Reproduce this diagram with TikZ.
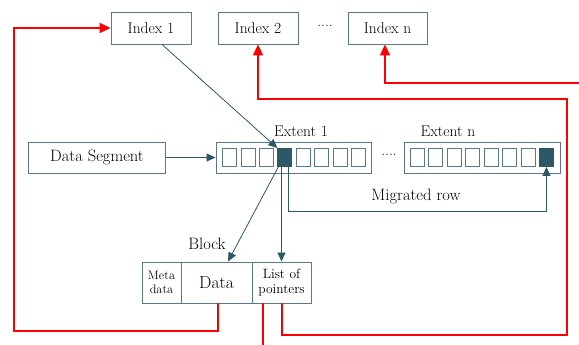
\documentclass[tikz,border=0pt]{standalone}
\usetikzlibrary{arrows.meta,calc}
\definecolor{slate}{RGB}{44,88,104}
\definecolor{edge}{RGB}{88,122,136}
\begin{document}
\begin{tikzpicture}[x=1pt,y=-1pt,
  box/.style={draw=edge,line width=0.9pt,fill=white,inner sep=0pt,minimum height=32pt,font=\fontsize{15.5}{17}\selectfont},
  cell/.style={draw=edge,line width=0.9pt,fill=white,minimum width=14pt,minimum height=18pt,inner sep=0pt},
  full/.style={cell,fill=slate,draw=slate},
  lbl/.style={inner sep=0pt,font=\fontsize{15.5}{17}\selectfont},
  part/.style={draw=edge,line width=0.9pt,fill=white,minimum height=41pt,inner sep=0pt,align=center},
  link/.style={draw=slate,line width=0.8pt,-{Triangle[length=9pt,width=8pt]}},
  ptr/.style={draw=red,line width=1.8pt,-{Triangle[length=11pt,width=10pt]}},
  wire/.style={draw=red,line width=1.8pt},
]
\useasboundingbox (0,0) rectangle (579,345);

% index row
\node[box,minimum width=80pt] (idx1) at (151,28) {Index 1};
\node[box,minimum width=80pt] (idx2) at (258,28) {Index 2};
\node[lbl] (idots) at (325,26) {....};
\node[box,minimum width=79pt] (idxn) at (387.5,28) {Index n};

% segment and extents
\node[box,minimum width=137pt,minimum height=31pt,font=\fontsize{16.5}{18}\selectfont] (seg) at (97,157.5) {Data Segment};
\node[box,minimum width=155pt,minimum height=31pt] (ext1) at (293.5,157.5) {};
\node[box,minimum width=156pt,minimum height=31pt] (extn) at (482,157.5) {};
\node[lbl] (ext1lbl) at (301,131) {Extent 1};
\node[lbl] (extnlbl) at (448,131) {Extent n};
\node[lbl] (edots) at (389,155) {....};

\foreach \i in {1,...,8} {
  \ifnum\i=4
    \node[full] (a\i) at ({229.5+18.45*(\i-1)},157.5) {};
  \else
    \node[cell] (a\i) at ({229.5+18.45*(\i-1)},157.5) {};
  \fi
  \ifnum\i=8
    \node[full] (b\i) at ({417.5+18.43*(\i-1)},157.5) {};
  \else
    \node[cell] (b\i) at ({417.5+18.43*(\i-1)},157.5) {};
  \fi
}

% block
\node[part,minimum width=39pt,font=\fontsize{12.3}{14}\selectfont] (meta) at (161.5,282.5) {Meta\\data};
\node[part,minimum width=71pt,font=\fontsize{17.5}{19}\selectfont] (data) at (216.5,282.5) {Data};
\node[part,minimum width=59pt,font=\fontsize{13.5}{15.5}\selectfont] (list) at (281.5,282.5) {List of\\pointers};
\node[lbl,font=\fontsize{16.5}{18}\selectfont] (blocklbl) at (207,244) {Block};
\node[lbl,font=\fontsize{16.5}{18}\selectfont] (miglbl) at (416,196) {Migrated row};

% dark connectors
\draw[link] ($(idx1.south)+(11,0)$) -- (a4.north west);
\draw[link] (seg.east) -- (ext1.west);
\draw[link] ($(a4.south west)+(2,-2)$) -- ($(data.north)+(11.5,0)$);
\draw[link] (a4.south -| list.north) -- (list.north);
\coordinate (migA) at (288,211);
\draw[link] (a4.south -| migA) -- (migA) -- (migA -| b8.south) -- (b8.south);

% red pointers
\coordinate (loopL) at (14,331);
\draw[ptr] ($(data.south)+(1.5,0)$) |- (loopL) |- (idx1.west);
\coordinate (tail) at (263,345);
\draw[wire] (tail |- list.south) -- (tail);
\coordinate (loopR) at (567,335);
\coordinate (loopT) at (567,99);
\draw[ptr] ($(list.south)+(0.5,0)$) |- (loopR) -- (loopT) -| (idx2.south);
\coordinate (edgeR) at (579,83);
\draw[ptr] (edgeR) -| ($(idxn.south)+(-2.5,0)$);
\end{tikzpicture}
\end{document}
